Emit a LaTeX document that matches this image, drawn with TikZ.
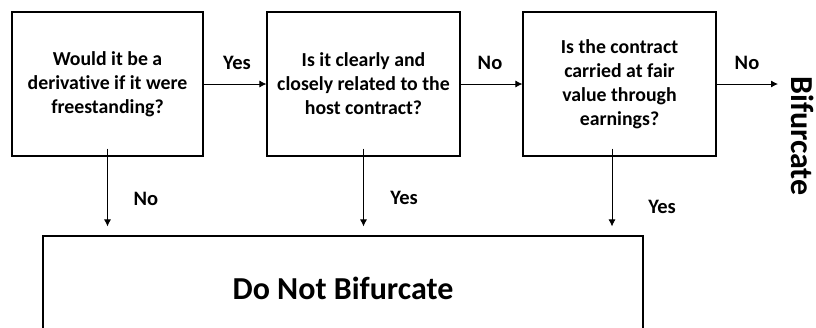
\documentclass[tikz,border=0pt]{standalone}
\usepackage{fontspec}
\setmainfont{Carlito}[Ligatures={NoCommon}]
\usetikzlibrary{arrows.meta}
\begin{document}
\begin{tikzpicture}[x=1pt,y=-1pt,
  qbox/.style={draw=black,line width=1.1pt,minimum height=144pt,align=center,inner sep=2pt,
    font=\fontsize{19.8}{24}\selectfont\bfseries},
  lbl/.style={font=\fontsize{20.5}{24}\selectfont\bfseries,inner sep=0pt},
  big/.style={font=\fontsize{32}{38}\selectfont\bfseries,inner sep=0pt},
  arr/.style={draw=black,line width=0.9pt,-{Latex[length=7pt,width=7pt]}}]
\useasboundingbox (0,0) rectangle (816,327);
\node[qbox,minimum width=191pt] (b1) at (107.5,84) {Would it be a\\derivative if it were\\freestanding?};
\node[qbox,minimum width=193pt] (b2) at (363.5,84) {Is it clearly and\\closely related to the\\host contract?};
\node[qbox,minimum width=193pt] (b3) at (619.5,84) {Is the contract\\carried at fair\\value through\\earnings?};
\node[draw=black,line width=1.1pt,minimum width=600pt,minimum height=104pt,big] (bot) at (343,288) {Do Not Bifurcate};
\node[big,rotate=-90] (bif) at (803,136) {Bifurcate};
\coordinate (e3) at (778,84);
\draw[arr] (b1.east) -- (b2.west);
\draw[arr] (b2.east) -- (b3.west);
\draw[arr] (b3.east) -- (e3);
\node[lbl] (l1) at (237,63) {Yes};
\node[lbl] (l2) at (490,63) {No};
\node[lbl] (l3) at (747,63) {No};
\draw[arr] ([yshift=8pt]b1.south) -- ([yshift=9pt]b1.south |- bot.north);
\draw[arr] ([yshift=8pt]b2.south) -- ([yshift=9pt]b2.south |- bot.north);
\draw[arr] ([xshift=-7.5pt,yshift=8pt]b3.south) -- ([xshift=-7.5pt,yshift=9pt]b3.south |- bot.north);
\node[lbl] (l4) at (146,199) {No};
\node[lbl] (l5) at (404,198) {Yes};
\node[lbl] (l6) at (662,207) {Yes};
\end{tikzpicture}
\end{document}
